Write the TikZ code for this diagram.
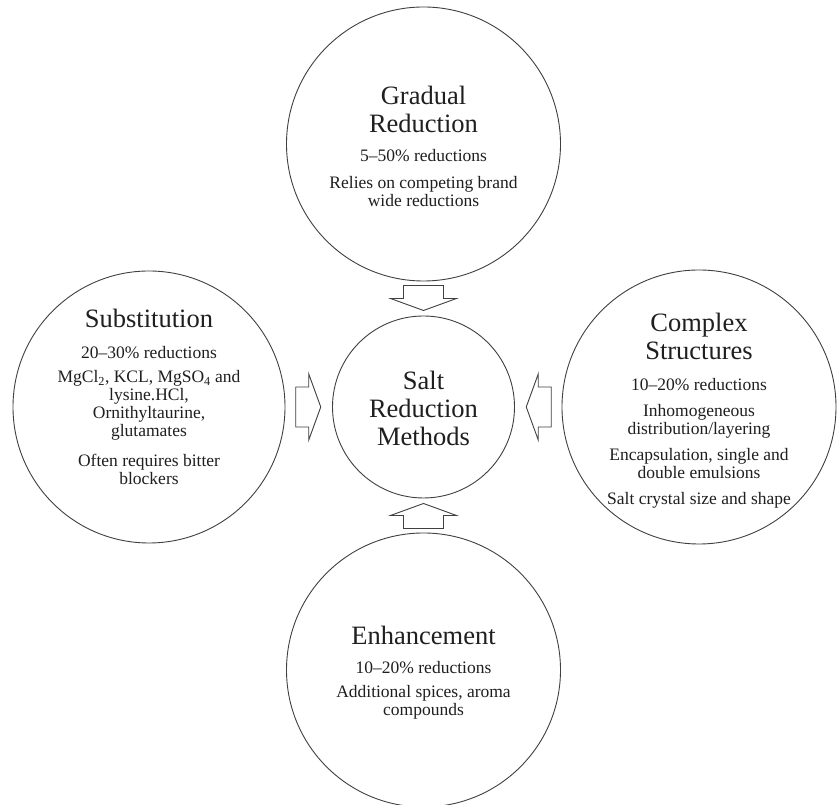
\documentclass[tikz,border=0pt]{standalone}
\usepackage{fontspec}
\setmainfont{Liberation Serif}
\usetikzlibrary{calc}
\tikzset{
  circ/.style={circle, draw=black!75, line width=0.9pt, inner sep=0pt},
  ttl/.style={font=\fontsize{26.5}{28}\selectfont, align=center, text=black!88, inner sep=0pt},
  body/.style={font=\fontsize{17.5}{18}\selectfont, align=center, text=black!88, inner sep=0pt},
  arrline/.style={draw=black!75, line width=0.9pt, fill=white, line join=miter},
  blockarr/.pic={\draw[arrline] (-13,20) -- (0,20) -- (0,33) -- (12,0) -- (0,-33) -- (0,-20) -- (-13,-20) -- cycle;}
}
\begin{document}
\begin{tikzpicture}[x=1pt,y=1pt]
\useasboundingbox[fill=white] (0,0) rectangle (839,805);
% circles
\node[circ, minimum size=274pt] (top) at (423.5,661) {};
\node[circ, minimum size=182pt] (mid) at (423.5,398) {};
\node[circ, minimum size=272pt] (left) at (149,398) {};
\node[circ, minimum size=274pt] (right) at (699,398) {};
\node[circ, minimum size=274pt] (bot) at (423.5,135) {};
% block arrows
\path ($(top.south)!0.5!(mid.north)$) pic[rotate=-90] {blockarr};
\path ($(bot.north)!0.5!(mid.south)$) pic[rotate=90] {blockarr};
\path ($(left.east)!0.5!(mid.west)$) pic {blockarr};
\path ($(right.west)!0.5!(mid.east)$) pic[rotate=180] {blockarr};
% centre
\node[ttl] (midt) at ($(mid)+(0,-1)$) {Salt\\Reduction\\Methods};
% top
\node[ttl] (topt) at ($(top)+(0,35)$) {Gradual\\Reduction};
\node[body] (topa) at ($(top)+(0,-12)$) {5–50\% reductions};
\node[body] (topb) at ($(top)+(0,-47.5)$) {Relies on competing brand\\wide reductions};
% left
\node[ttl] (leftt) at ($(left)+(0,89)$) {Substitution};
\node[body] (lefta) at ($(left)+(0,54)$) {20–30\% reductions};
\node[body] (leftb) at ($(left)+(0,1.5)$) {MgCl\textsubscript{2}, KCL, MgSO\textsubscript{4} and\\lysine.HCl,\\Ornithyltaurine,\\glutamates};
\node[body] (leftc) at ($(left)+(0,-62)$) {Often requires bitter\\blockers};
% right
\node[ttl] (rightt) at ($(right)+(0,70.5)$) {Complex\\Structures};
\node[body] (righta) at ($(right)+(0,22)$) {10–20\% reductions};
\node[body] (rightb) at ($(right)+(0,-14)$) {Inhomogeneous\\distribution/layering};
\node[body] (rightc) at ($(right)+(0,-57)$) {Encapsulation, single and\\double emulsions};
\node[body] (rightd) at ($(right)+(0,-93)$) {Salt crystal size and shape};
% bottom
\node[ttl] (bott) at ($(bot)+(0,35)$) {Enhancement};
\node[body] (bota) at ($(bot)+(0,2)$) {10–20\% reductions};
\node[body] (botb) at ($(bot)+(0,-32.5)$) {Additional spices, aroma\\compounds};
\end{tikzpicture}
\end{document}
